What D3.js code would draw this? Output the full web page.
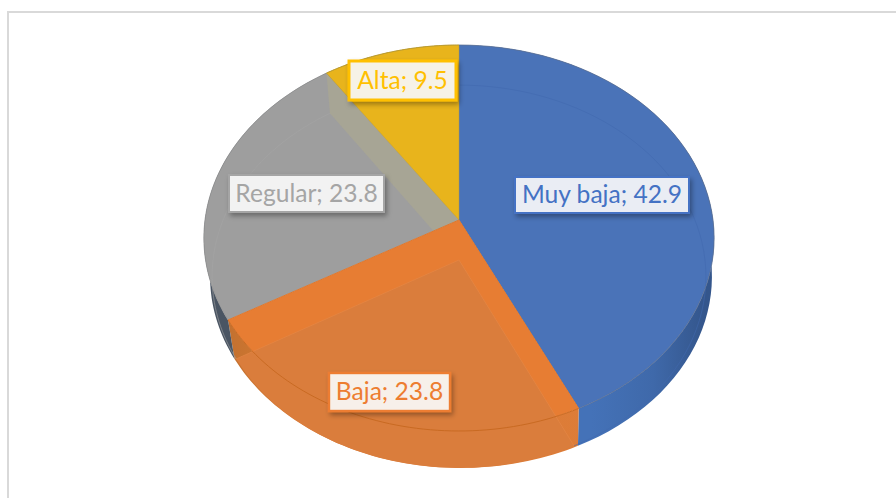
<!DOCTYPE html>
<html><head><meta charset="utf-8">
<script src="https://cdn.jsdelivr.net/npm/d3@7/dist/d3.min.js"></script>
<style>html,body{margin:0;padding:0;background:#fff;overflow:hidden}svg{display:block}</style>
</head><body><svg id="c" width="896" height="498"></svg>
<script>
const categories = ["Muy baja","Baja","Regular","Alta"];
const values = [42.9,23.8,23.8,9.5];
const topColors = ["#4A73B8","#E77D33","#9E9E9E","#E8B41C"];
const faceColors = ["#4A73B7","#DA7D3C","#9D9D9D","#E8B41C"];
const wallColors = ["#4A73B8","#E97D30","#A7A595","#E8B41C"];
const labelText = ["#4472C4","#ED7D31","#A5A5A5","#FFC000"];
const labelFill = ["#EAEDF4","#F7F0EA","#F2F2F2","#F6F2E6"];
const labelBorder = [2,2.4,2,3];
const labelBoxes = [[514,176,176,38],[328,372,123,40],[228,174,157,39],[348,60,109,41]];

const svg = d3.select("#c");
const defs = svg.append("defs");
const shadowF = defs.append("filter").attr("id","sh").attr("x","-10%").attr("y","-20%").attr("width","125%").attr("height","150%");
shadowF.append("feDropShadow").attr("dx",2).attr("dy",3).attr("stdDeviation",2.6).attr("flood-color","#000").attr("flood-opacity",.33);
function grad(id,stops){const g=defs.append("linearGradient").attr("id",id).attr("gradientUnits","userSpaceOnUse")
  .attr("x1",200).attr("x2",715).attr("y1",0).attr("y2",0);
  stops.forEach(s=>g.append("stop").attr("offset",s[0]).attr("stop-color",s[1]));}
grad("sideBlue",[[0,"#4472B8"],[.76,"#4472B8"],[.88,"#3F69AA"],[.98,"#34568C"],[1,"#34568C"]]);
grad("sideOrange",[[0,"#B96C30"],[.09,"#C97430"],[.2,"#DA7B37"],[1,"#DE7D38"]]);
grad("sideGray",[[0,"#4A5563"],[.06,"#4A5563"],[.1,"#68727E"]]);
const sideFills=["url(#sideBlue)","url(#sideOrange)","url(#sideGray)","#8a8a8a"];

// Frame
svg.append("rect").attr("x",8).attr("y",12).attr("width",1000).attr("height",1000)
  .attr("fill","#fff").attr("stroke","#D9D9D9").attr("stroke-width",2);

// Projective mapping of the unit disc to the tilted pie
const makeProj = (cx,cy,a,b,p)=>{
  const sx=d3.scaleLinear().domain([0,1]).range([cx,cx+a]);
  const sy=d3.scaleLinear().domain([0,1]).range([cy,cy+b]);
  return (ang,r=1)=>{const u=r*Math.sin(ang),v=-r*Math.cos(ang),w=1-p*v;return [sx(u/w),sy(v/w)];};
};
const topP   = makeProj(459,220,254,191.3,.0933);
const faceP  = makeProj(459,260,246,190,.0862);
const hullP  = makeProj(461,260,250,190,.0862);

const slices = d3.pie().sort(null).value(d=>d)(values);
const line = d3.line();
const arcPts=(P,a0,a1)=>d3.range(0,61).map(i=>P(a0+(a1-a0)*i/60));
const wedge=(P,d)=>line([P(0,0),...arcPts(P,d.startAngle,d.endAngle)])+"Z";

// outer side wall
const sideG=svg.append("g");
slices.forEach((d,i)=>sideG.append("path")
  .attr("d",line([...arcPts(topP,d.startAngle,d.endAngle),...arcPts(hullP,d.endAngle,d.startAngle)])+"Z")
  .attr("fill",sideFills[i]));

// top wedges
const topG=svg.append("g");
slices.forEach((d,i)=>topG.append("path").attr("d",wedge(topP,d)).attr("fill",topColors[i]));

// bottom face seen through the translucent top
const through=svg.append("g");
const bGray=slices[2], bOr=slices[1];
defs.append("clipPath").attr("id","grayClip").append("path").attr("d",wedge(topP,bGray));
through.append("path").attr("clip-path","url(#grayClip)")
  .attr("d",line([topP(0,0),topP(bGray.endAngle),faceP(bGray.endAngle),faceP(0,0)])+"Z").attr("fill",wallColors[2]);
through.append("path").attr("d",wedge(faceP,bOr)).attr("fill",faceColors[1]);
through.append("path").attr("d",line([faceP(bOr.startAngle),faceP(0,0),faceP(bOr.endAngle)])).attr("fill","none")
  .attr("stroke","#E58A4A").attr("stroke-width",.8).attr("stroke-opacity",.7);
slices.forEach((d,i)=>{
  if(i==1||i==3) return;
  through.append("path").attr("d",line(arcPts(faceP,d.startAngle,d.endAngle))).attr("fill","none")
    .attr("stroke",["#4069AE","","#A6A6A6"][i]).attr("stroke-width",.8).attr("stroke-opacity",.7);
});
svg.append("path").attr("d",wedge(topP,slices[3])).attr("fill",topColors[3]).attr("stroke","#B89A3A").attr("stroke-width",.5);

// rim line and outlines
slices.forEach((d,i)=>{
  svg.append("path").attr("d",line(arcPts(topP,d.startAngle,d.endAngle))).attr("fill","none")
    .attr("stroke",["#5A6F92","#C96A22","#8F8F8F","#B99A30"][i]).attr("stroke-width",i==1?1:.8);
});
svg.append("path").attr("d",line([topP(slices[1].startAngle),topP(0,0),topP(slices[1].endAngle)])).attr("fill","none")
  .attr("stroke","#E0772C").attr("stroke-width",1);

// labels
const lab=svg.append("g");
categories.forEach((c,i)=>{
  const [x,y,w,h]=labelBoxes[i];
  lab.append("rect").attr("x",x+1).attr("y",y+1).attr("width",w-2).attr("height",h-2)
    .attr("fill",labelFill[i]).attr("stroke",labelText[i]).attr("stroke-width",labelBorder[i]).attr("filter","url(#sh)");
  lab.append("text").attr("x",x+w/2).attr("y",y+h/2+8.4).attr("text-anchor","middle")
    .attr("font-family","Lato, 'Open Sans', sans-serif").attr("font-size",24.6).attr("fill",labelText[i])
    .text(`${c}; ${values[i]}`);
});
</script></body></html>
